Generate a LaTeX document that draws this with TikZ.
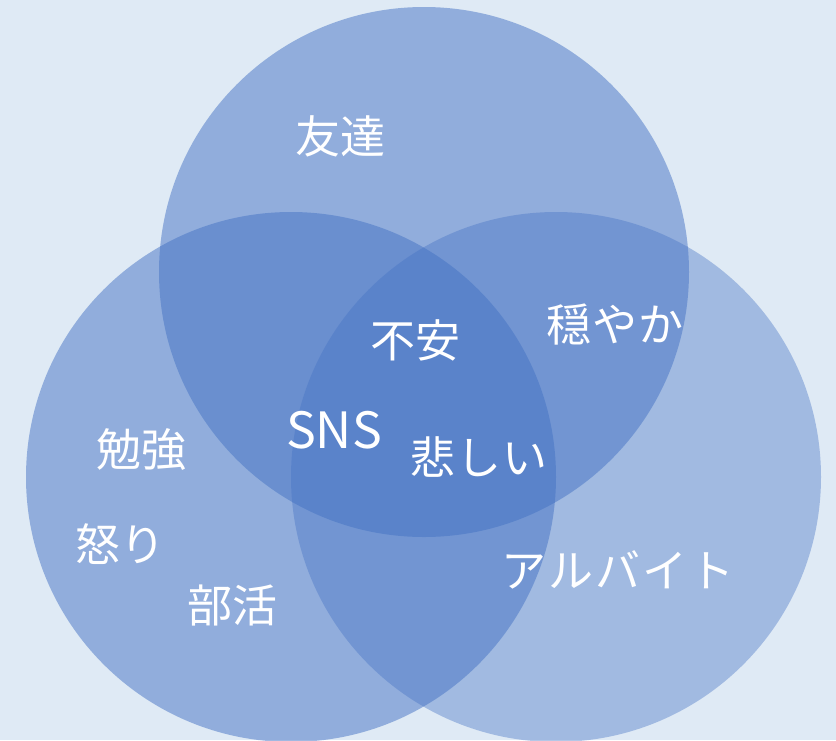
\documentclass[tikz,border=0pt]{standalone}
\usepackage{fontspec}
\setmainfont{Noto Sans CJK JP}
\definecolor{bgc}{HTML}{DFEAF5}
\definecolor{circc}{HTML}{4472C4}
\begin{document}
\begin{tikzpicture}[x=1pt,y=-1pt,
  venn/.style={fill=circc,draw=none},
  lbl/.style={text=white,font=\fontsize{45}{49}\selectfont,inner sep=0pt}]
\fill[bgc] (0,0) rectangle (836,740);
\useasboundingbox (0,0) rectangle (836,740);
\clip (0,0) rectangle (836,740);
\fill[venn,fill opacity=0.5] (424,272) circle[radius=265];
\fill[venn,fill opacity=0.5] (291,477) circle[radius=265];
\fill[venn,fill opacity=0.4] (556,477) circle[radius=265];
\node[lbl] (tomo) at (340,136) {友達};
\node[lbl] (fuan) at (415,340) {不安};
\node[lbl] (oda) at (615,325) {\addfontfeature{LetterSpace=2}穏やか};
\node[lbl,font=\fontsize{50}{54}\selectfont] (sns) at (334,430) {SNS};
\node[lbl] (kana) at (479,457) {\addfontfeature{LetterSpace=2}悲しい};
\node[lbl] (ben) at (141,450) {勉強};
\node[lbl] (ikari) at (120,544) {怒り};
\node[lbl] (bu) at (232,606) {部活};
\node[lbl] (arb) at (618,570) {\addfontfeature{LetterSpace=5}アルバイト};
\end{tikzpicture}
\end{document}
